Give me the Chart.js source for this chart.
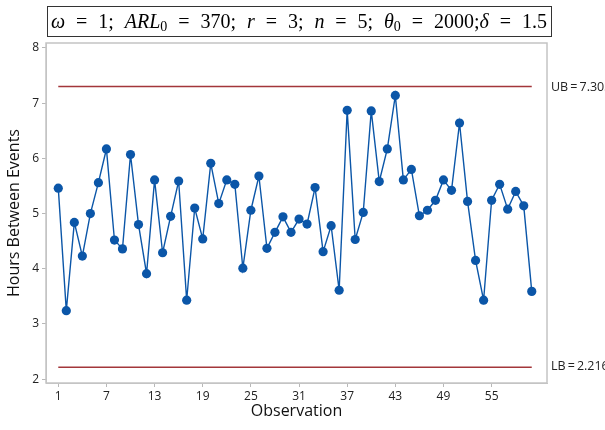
<!DOCTYPE html>
<html>
<head>
<meta charset="utf-8">
<script src="https://cdn.jsdelivr.net/npm/chart.js@4/dist/chart.umd.min.js"></script>
<style>
  html, body { margin: 0; padding: 0; background: #fff; }
  #wrap { width: 605px; height: 430px; }
</style>
</head>
<body>
<div id="wrap"><canvas id="timeChart" width="605" height="430"></canvas></div>
<script>
// values
const hours = [
  5.46, 3.24, 4.84, 4.23, 5.00, 5.56, 6.17, 4.52, 4.36, 6.07,
  4.80, 3.91, 5.61, 4.29, 4.95, 5.59, 3.43, 5.10, 4.54, 5.91,
  5.18, 5.61, 5.53, 4.01, 5.06, 5.68, 4.37, 4.66, 4.94, 4.66,
  4.90, 4.81, 5.47, 4.31, 4.78, 3.61, 6.87, 4.53, 5.02, 6.86,
  5.58, 6.17, 7.14, 5.61, 5.80, 4.96, 5.06, 5.24, 5.61, 5.42,
  6.64, 5.22, 4.15, 3.43, 5.24, 5.53, 5.08, 5.40, 5.14, 3.59
];
const xTicks = [1, 7, 13, 19, 25, 31, 37, 43, 49, 55];
const yTicks = [2, 3, 4, 5, 6, 7, 8];
const upperBound = 7.303;
const lowerBound = 2.216;

// title pieces: italic for variables, sub for subscripts
const titleParts = [
  { t: 'ω', i: true }, { t: ' = 1; ' },
  { t: 'ARL', i: true }, { t: '0', sub: true }, { t: ' = 370; ' },
  { t: 'r', i: true }, { t: ' = 3; ' },
  { t: 'n', i: true }, { t: ' = 5; ' },
  { t: 'θ', i: true }, { t: '0', sub: true }, { t: ' = 2000;' },
  { t: 'δ', i: true }, { t: ' = 1.5' }
];

const points = hours.map((h, idx) => ({ x: idx + 1, y: h }));
const lastObs = hours.length;

const boxTitle = {
  id: 'boxTitle',
  afterDraw(chart) {
    const ctx = chart.ctx;
    const left = 47, right = 551, top = 6, bottom = 36;
    ctx.save();
    ctx.strokeStyle = '#333';
    ctx.lineWidth = 1;
    ctx.strokeRect(left + 0.5, top + 0.5, right - left, bottom - top);

    const size = 20;
    const fontFor = p => (p.i ? 'italic ' : '') + (p.sub ? size * 0.7 : size) + 'px "Liberation Serif", serif';
    // measure plain width and count spaces to spread the rest
    let plain = 0, spaces = 0;
    titleParts.forEach(p => {
      ctx.font = fontFor(p);
      plain += ctx.measureText(p.t).width;
      if (!p.i && !p.sub) spaces += (p.t.match(/ /g) || []).length;
    });
    const target = right - left - 8;
    const extra = Math.max(0, (target - plain) / spaces);
    let x = left + 4;
    const base = 28;
    ctx.fillStyle = '#000';
    ctx.textBaseline = 'alphabetic';
    ctx.textAlign = 'left';
    titleParts.forEach(p => {
      ctx.font = fontFor(p);
      if (p.i || p.sub) {
        ctx.fillText(p.t, x, p.sub ? base + 3 : base);
        x += ctx.measureText(p.t).width;
        return;
      }
      for (const ch of p.t) {
        if (ch === ' ') {
          x += ctx.measureText(' ').width + extra;
        } else {
          ctx.fillText(ch, x, base);
          x += ctx.measureText(ch).width;
        }
      }
    });
    ctx.restore();
  }
};

const frameAndLabels = {
  id: 'frameAndLabels',
  afterDraw(chart) {
    const { ctx, chartArea } = chart;
    const yScale = chart.scales.y;
    ctx.save();
    ctx.strokeStyle = '#c4c4c4';
    ctx.lineWidth = 1.5;
    ctx.strokeRect(chartArea.left, chartArea.top, chartArea.right - chartArea.left, chartArea.bottom - chartArea.top);
    ctx.fillStyle = '#222';
    ctx.font = '12.5px "Open Sans", sans-serif';
    ctx.textAlign = 'left';
    ctx.textBaseline = 'middle';
    ctx.fillText('UB\u2009=\u20097.303', chartArea.right + 4, yScale.getPixelForValue(upperBound) + 1);
    ctx.fillText('LB\u2009=\u20092.216', chartArea.right + 4, yScale.getPixelForValue(lowerBound) - 1);
    ctx.restore();
  }
};

const ctx = document.getElementById('timeChart').getContext('2d');
new Chart(ctx, {
  type: 'line',
  data: {
    datasets: [
      {
        label: 'UB',
        data: [{ x: 1, y: upperBound }, { x: lastObs, y: upperBound }],
        borderColor: '#a3363a',
        borderWidth: 1.6,
        pointRadius: 0,
        fill: false
      },
      {
        label: 'LB',
        data: [{ x: 1, y: lowerBound }, { x: lastObs, y: lowerBound }],
        borderColor: '#a3363a',
        borderWidth: 1.6,
        pointRadius: 0,
        fill: false
      },
      {
        label: 'Hours',
        data: points,
        borderColor: '#0b56a8',
        backgroundColor: '#0b56a8',
        borderWidth: 1.4,
        pointRadius: 4.6,
        pointBackgroundColor: '#0b56a8',
        pointBorderWidth: 0,
        tension: 0,
        fill: false
      }
    ]
  },
  options: {
    responsive: false,
    animation: false,
    layout: { padding: { top: 43, right: 58, bottom: 0, left: 0 } },
    plugins: {
      legend: { display: false },
      tooltip: { enabled: false }
    },
    scales: {
      x: {
        type: 'linear',
        min: -0.53,
        max: 61.9,
        afterBuildTicks: scale => { scale.ticks = xTicks.map(v => ({ value: v })); },
        afterFit: scale => { scale.height = 47; },
        grid: { drawOnChartArea: false, tickLength: 4, color: '#b8b8b8' },
        border: { color: '#c4c4c4' },
        ticks: {
          padding: 2,
          color: '#222',
          font: { family: '"Open Sans", sans-serif', size: 12 },
          maxRotation: 0,
          autoSkip: false
        },
        title: {
          display: true,
          text: 'Observation',
          color: '#111',
          font: { family: '"Open Sans", sans-serif', size: 16 },
          padding: { top: 0, bottom: 9 }
        }
      },
      y: {
        min: 1.93,
        max: 8.09,
        afterBuildTicks: scale => { scale.ticks = yTicks.map(v => ({ value: v })); },
        afterFit: scale => { scale.width = 46; },
        grid: { drawOnChartArea: false, tickLength: 4, color: '#b8b8b8' },
        border: { color: '#c4c4c4' },
        ticks: {
          padding: 3,
          color: '#222',
          font: { family: '"Open Sans", sans-serif', size: 12 }
        },
        title: {
          display: true,
          text: 'Hours Between Events',
          color: '#111',
          font: { family: '"Open Sans", sans-serif', size: 16 },
          padding: { top: 5, bottom: 0 }
        }
      }
    }
  },
  plugins: [boxTitle, frameAndLabels]
});
</script>
</body>
</html>
